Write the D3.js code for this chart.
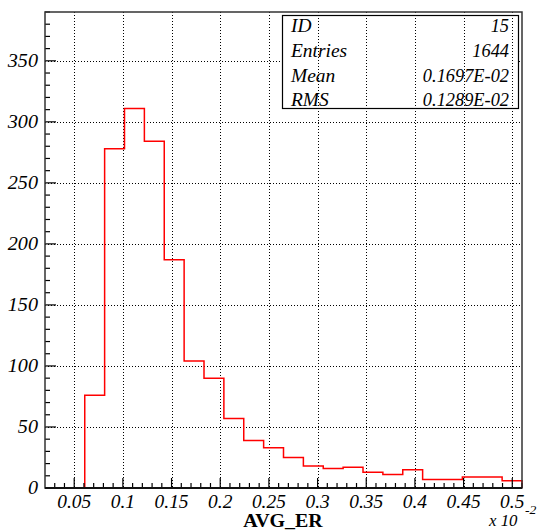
<!DOCTYPE html>
<html>
<head>
<meta charset="utf-8">
<script src="https://cdn.jsdelivr.net/npm/d3@7"></script>
<style>
  html, body { margin: 0; padding: 0; background: #fff; }
  svg { display: block; }
</style>
</head>
<body>
<svg id="chart" width="541" height="531"></svg>
<script>
// Histogram of AVG_ER (units of 1e-2), 24 equal bins over [0.02, 0.51]
const binLow = 0.02;
const binHigh = 0.51;
const counts = [0, 0, 76, 278, 311, 284, 187, 104, 90, 57, 39, 33,
                25, 18, 16, 17, 13, 11, 15, 7, 7, 9, 9, 6];
const xTicks = [0.05, 0.1, 0.15, 0.2, 0.25, 0.3, 0.35, 0.4, 0.45, 0.5];
const yTicks = [0, 50, 100, 150, 200, 250, 300, 350];
const statLabels = ["ID", "Entries", "Mean", "RMS"];
const statValues = ["15", "1644", "0.1697E-02", "0.1289E-02"];
const yMax = 390;

const SERIF = "'Liberation Serif', 'Times New Roman', Times, 'DejaVu Serif', serif";
const frame = { left: 45, right: 522, top: 12, bottom: 488 };
const svg = d3.select("#chart");

const x = d3.scaleLinear().domain([binLow, binHigh]).range([frame.left, frame.right]);
const y = d3.scaleLinear().domain([0, yMax]).range([frame.bottom, frame.top]);

const binWidth = (binHigh - binLow) / counts.length;
const bins = counts.map((c, i) => ({ x0: binLow + i * binWidth, x1: binLow + (i + 1) * binWidth, c }));

// Text helper: serif glyphs, slightly widened
function label(sel, px, py, size, sx) {
  return sel
    .attr("transform", (d, i) => `translate(${typeof px === "function" ? px(d, i) : px},${typeof py === "function" ? py(d, i) : py}) scale(${sx},1)`)
    .attr("font-family", SERIF)
    .attr("font-size", size);
}

// Stats box geometry
const box = { x0: 282, x1: 518, y0: 15, y1: 108 };

// Horizontal grid (hidden behind the stats box)
svg.append("g")
  .selectAll("line").data(yTicks.filter(v => v > 0)).join("line")
  .attr("x1", frame.left).attr("x2", frame.right)
  .attr("y1", d => Math.round(y(d)) + 0.5).attr("y2", d => Math.round(y(d)) + 0.5)
  .attr("stroke", "#000").attr("stroke-width", 1).attr("stroke-dasharray", "1,2");

svg.append("rect")
  .attr("x", box.x0).attr("y", box.y0)
  .attr("width", box.x1 - box.x0).attr("height", box.y1 - box.y0)
  .attr("fill", "#fff");

// Vertical grid
svg.append("g")
  .selectAll("line").data(xTicks).join("line")
  .attr("x1", d => Math.round(x(d)) + 0.5).attr("x2", d => Math.round(x(d)) + 0.5)
  .attr("y1", frame.top).attr("y2", frame.bottom)
  .attr("stroke", "#000").attr("stroke-width", 1).attr("stroke-dasharray", "1,2");

// Histogram outline as a step line
const pts = [[bins[0].x0, 0]];
bins.forEach(b => { pts.push([b.x0, b.c]); pts.push([b.x1, b.c]); });
pts.push([bins[bins.length - 1].x1, 0]);
svg.append("path")
  .attr("d", d3.line().x(d => x(d[0])).y(d => y(d[1]))(pts))
  .attr("fill", "none").attr("stroke", "#ff0000").attr("stroke-width", 1.5);

// Ticks drawn inward
const xMinor = d3.range(3, 52).map(k => k / 100);
svg.append("g").selectAll("line").data(xMinor).join("line")
  .attr("x1", d => x(d)).attr("x2", d => x(d))
  .attr("y1", frame.bottom).attr("y2", d => frame.bottom - (Math.abs(d * 20 - Math.round(d * 20)) < 1e-6 ? 10 : 5))
  .attr("stroke", "#000").attr("stroke-width", 1.2);

const yMinor = d3.range(0, yMax + 1, 10);
svg.append("g").selectAll("line").data(yMinor).join("line")
  .attr("x1", frame.left).attr("x2", d => frame.left + (d % 50 === 0 ? 11 : 5))
  .attr("y1", d => y(d)).attr("y2", d => y(d))
  .attr("stroke", "#000").attr("stroke-width", 1.2);

// Frame
svg.append("rect")
  .attr("x", frame.left).attr("y", frame.top)
  .attr("width", frame.right - frame.left).attr("height", frame.bottom - frame.top)
  .attr("fill", "none").attr("stroke", "#333").attr("stroke-width", 1.5);
svg.append("line")
  .attr("x1", frame.left).attr("x2", frame.right)
  .attr("y1", frame.bottom).attr("y2", frame.bottom)
  .attr("stroke", "#111").attr("stroke-width", 2);

// Tick labels
label(svg.append("g").selectAll("text").data(xTicks).join("text"), d => x(d), 508, 18, 1.08)
  .attr("text-anchor", "middle").attr("font-style", "italic")
  .text(d => d3.format("")(d));

label(svg.append("g").selectAll("text").data(yTicks).join("text"), 38, d => y(d) + 6, 18, 1.12)
  .attr("text-anchor", "end").attr("font-style", "italic")
  .text(d => d);

// Axis title and exponent
label(svg.append("text"), 283, 527, 19, 1.05)
  .attr("text-anchor", "middle").attr("font-weight", "bold")
  .text("AVG_ER");
label(svg.append("text"), 489, 526, 16, 1.05)
  .attr("font-style", "italic").text("x 10");
label(svg.append("text"), 525, 514, 13, 1.05)
  .attr("font-style", "italic").text("-2");

// Stats box
svg.append("rect")
  .attr("x", box.x0 + 0.5).attr("y", box.y0 + 0.5)
  .attr("width", box.x1 - box.x0).attr("height", box.y1 - box.y0)
  .attr("fill", "none").attr("stroke", "#000").attr("stroke-width", 1.2);

const rowY = [32, 57, 82, 106];
label(svg.append("g").selectAll("text").data(statLabels).join("text"), 291, (d, i) => rowY[i], 18, 1.08)
  .attr("font-style", "italic").text(d => d);
label(svg.append("g").selectAll("text").data(statValues).join("text"), 509, (d, i) => rowY[i], 18, 1.02)
  .attr("text-anchor", "end").attr("font-style", "italic").text(d => d);
</script>
</body>
</html>
